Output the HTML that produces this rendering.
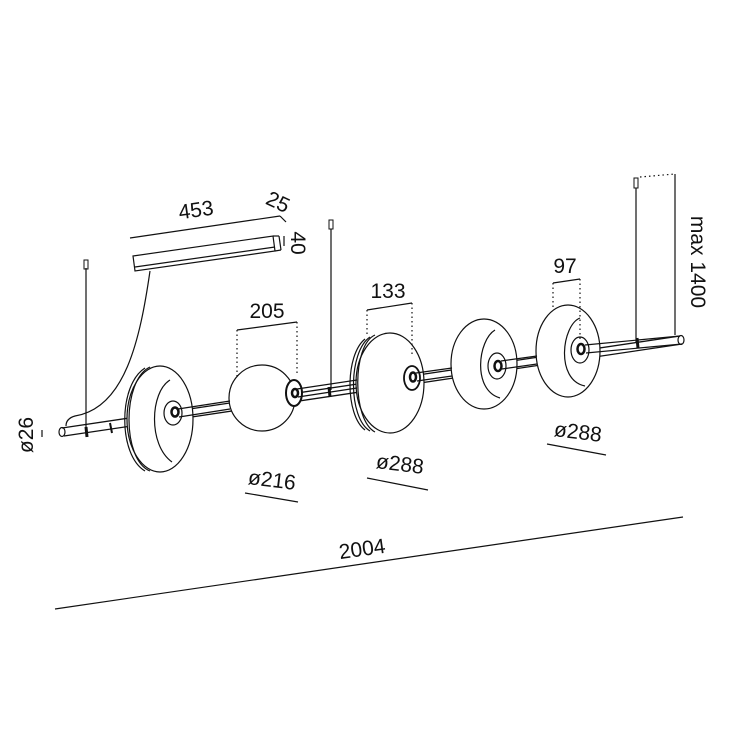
<!DOCTYPE html>
<html><head><style>
html,body{margin:0;padding:0;background:#fff;}
svg{display:block;}
text{font-family:"Liberation Sans",sans-serif;fill:#111;}
</style></head><body>
<svg width="750" height="750" viewBox="0 0 750 750" xmlns="http://www.w3.org/2000/svg">
<g fill="none" stroke="#111" stroke-width="1.2">
<line x1="55" y1="609" x2="683" y2="517"/>
<!-- canopy -->
<polygon points="133,256 273,236 275,251 135,271" fill="#fff"/>
<line x1="135" y1="267" x2="275" y2="247"/>
<line x1="273" y1="236" x2="279" y2="236"/><line x1="275" y1="251" x2="281" y2="250"/><line x1="279" y1="236" x2="281" y2="250"/>
<!-- cable -->
<path d="M150,271 C140,340 125,408 75,416 C68,418 66,422 66,426"/>
<!-- rod -->
<path d="M62,428 L680,336 M64,436 L682,344" stroke-width="1.3"/>
<ellipse cx="681" cy="340" rx="3" ry="4.5"/>
<ellipse cx="62" cy="432" rx="3" ry="4.5"/>
<line x1="110" y1="423" x2="112" y2="433" stroke-width="2"/>
<line x1="86" y1="427" x2="87" y2="437" stroke-width="3"/>
<line x1="637" y1="338" x2="638" y2="348" stroke-width="3"/>
<line x1="329" y1="387" x2="330" y2="397" stroke-width="3"/>
<!-- wires -->
<line x1="86" y1="268" x2="86" y2="428"/>
<rect x="84" y="260" width="4" height="9" stroke-width="1"/>
<line x1="331" y1="229" x2="331" y2="390"/>
<rect x="329" y="220" width="4" height="9" stroke-width="1"/>
<line x1="636" y1="188" x2="636" y2="343"/>
<rect x="634" y="178" width="4" height="10" stroke-width="1"/>
<line x1="640" y1="177" x2="675" y2="174" stroke-dasharray="1.5,3"/>
<line x1="675" y1="174" x2="675" y2="335"/>
<!-- disc 1 -->
<ellipse cx="160" cy="419" rx="33" ry="53" fill="#fff"/>
<path d="M150,367 C122,380 122,460 150,471"/>
<path d="M145,368 C118,385 118,455 145,471"/>
<path d="M170,380 C150,392 148,445 172,462"/>
<ellipse cx="173" cy="413" rx="9" ry="12" fill="#fff"/>
<ellipse cx="175" cy="412" rx="3.5" ry="4.5" fill="#fff" stroke-width="2.5"/>
<!-- sphere -->
<circle cx="262" cy="398" r="33" fill="#fff"/>
<ellipse cx="294" cy="393" rx="8" ry="13" fill="#fff" stroke-width="2"/>
<ellipse cx="295" cy="393" rx="3" ry="4" stroke-width="2.5"/>
<!-- disc 3 -->
<ellipse cx="390" cy="383" rx="34" ry="50" fill="#fff"/>
<path d="M375,335 C352,345 352,420 375,432"/>
<path d="M370,337 C348,352 348,418 370,431"/>
<path d="M365,339 C345,355 345,415 365,430"/>
<ellipse cx="412" cy="378" rx="8" ry="12" fill="#fff" stroke-width="1.8"/>
<ellipse cx="413" cy="377" rx="3" ry="4.5" stroke-width="2.5"/>
<!-- disc 4 -->
<ellipse cx="484" cy="364" rx="33" ry="45" fill="#fff"/>
<path d="M495,330 C478,340 472,390 500,398"/>
<ellipse cx="497" cy="366" rx="9" ry="13" fill="#fff"/>
<ellipse cx="498" cy="366" rx="3.5" ry="5" stroke-width="2.5"/>
<!-- disc 5 -->
<ellipse cx="568" cy="351" rx="32" ry="46" fill="#fff"/>
<path d="M580,318 C562,325 555,380 585,386"/>
<ellipse cx="580" cy="350" rx="9" ry="13" fill="#fff"/>
<ellipse cx="581" cy="349" rx="3.5" ry="5" stroke-width="2.5"/>
<!-- rod segments in front -->
<path d="M178,409 L230,401 M179,417 L230,409"/>
<path d="M297,389 L357,380 M298,397 L357,388"/>
<path d="M416,373 L452,368 M417,381 L452,376"/>
<path d="M501,361 L537,356 M502,369 L537,364"/>
<path d="M585,345 L680,336 M586,353 L682,344"/>
<!-- dimension lines -->
<line x1="130" y1="238" x2="280" y2="216"/>
<line x1="280" y1="216" x2="286" y2="222"/>
<line x1="284" y1="236" x2="284" y2="246"/>
<line x1="237" y1="330" x2="297" y2="322"/>
<line x1="237" y1="330" x2="237" y2="378" stroke-dasharray="1.5,3"/>
<line x1="297" y1="322" x2="297" y2="376" stroke-dasharray="1.5,3"/>
<line x1="367" y1="310" x2="412" y2="303"/>
<line x1="367" y1="310" x2="367" y2="335" stroke-dasharray="1.5,3"/>
<line x1="412" y1="303" x2="412" y2="355" stroke-dasharray="1.5,3"/>
<line x1="553" y1="283" x2="580" y2="279"/>
<line x1="553" y1="283" x2="553" y2="308" stroke-dasharray="1.5,3"/>
<line x1="580" y1="279" x2="580" y2="340" stroke-dasharray="1.5,3"/>
<line x1="245" y1="493" x2="298" y2="502"/>
<line x1="367" y1="478" x2="428" y2="490"/>
<line x1="547" y1="444" x2="606" y2="455"/>
<line x1="42" y1="430" x2="42" y2="437"/>
</g>
<g font-size="21">
<text x="196" y="217" text-anchor="middle" transform="rotate(-8 196 210)">453</text>
<text x="278" y="209" text-anchor="middle" transform="rotate(25 278 202)">25</text>
<text x="298" y="243" transform="rotate(90 298 243)" text-anchor="middle" dy="7">40</text>
<text x="267" y="318" text-anchor="middle">205</text>
<text x="388" y="298" text-anchor="middle">133</text>
<text x="565" y="273" text-anchor="middle">97</text>
<text x="698" y="262" transform="rotate(90 698 262)" text-anchor="middle" dy="7">max 1400</text>
<text x="272" y="487" text-anchor="middle" transform="rotate(7 272 480)">ø216</text>
<text x="400" y="471" text-anchor="middle" transform="rotate(7 400 464)">ø288</text>
<text x="578" y="439" text-anchor="middle" transform="rotate(7 578 432)">ø288</text>
<text x="26" y="435" transform="rotate(-90 26 435)" text-anchor="middle" dy="7">ø26</text>
<text x="362" y="556" text-anchor="middle" transform="rotate(-8 362 548)">2004</text>
</g>
</svg>
</body></html>
